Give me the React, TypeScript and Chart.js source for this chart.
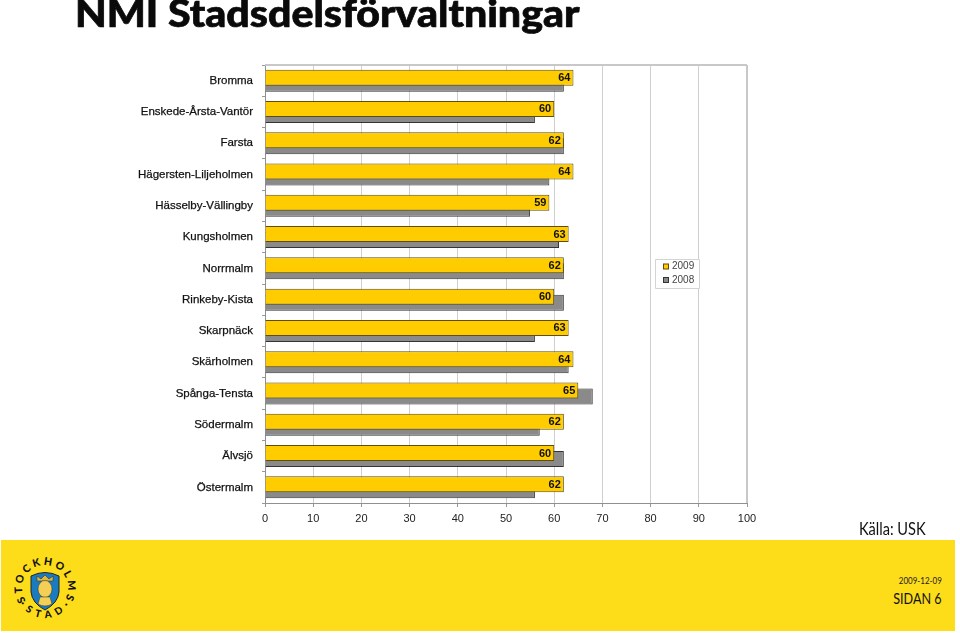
import React, { useEffect, useRef } from "react";
import { Chart, registerables } from "chart.js";

Chart.register(...registerables);

const categories = ["Bromma","Enskede-Årsta-Vantör","Farsta","Hägersten-Liljeholmen","Hässelby-Vällingby","Kungsholmen","Norrmalm","Rinkeby-Kista","Skarpnäck","Skärholmen","Spånga-Tensta","Södermalm","Älvsjö","Östermalm"];
const values2009 = [64,60,62,64,59,63,62,60,63,64,65,62,60,62];
const values2008 = [62,56,62,59,55,61,62,62,56,63,68,57,62,56];
const seriesNames = ["2009","2008"];
const FONT = '"Liberation Sans", Arial, sans-serif';

const decorPlugin = {
  id: "decor",
  beforeDatasetsDraw(chart: any) {
    const { ctx, chartArea: a } = chart;
    ctx.save();
    ctx.strokeStyle = "#c8c8c8";
    ctx.lineWidth = 2;
    ctx.beginPath();
    ctx.moveTo(a.left, a.top);
    ctx.lineTo(a.right, a.top);
    ctx.moveTo(a.right, a.top);
    ctx.lineTo(a.right, a.bottom);
    ctx.stroke();
    ctx.restore();
  },
  afterDatasetsDraw(chart: any) {
    const { ctx } = chart;
    const meta = chart.getDatasetMeta(0);
    ctx.save();
    ctx.font = `bold 11px ${FONT}`;
    ctx.fillStyle = "#111";
    ctx.textAlign = "right";
    ctx.textBaseline = "middle";
    meta.data.forEach((bar: any, i: number) => {
      ctx.fillText(String(chart.data.datasets[0].data[i]), bar.x - 3, bar.y + 0.5);
    });
    // legend
    const lx = 655, ly = 259.5, lw = 44, lh = 29;
    ctx.strokeStyle = "#d4d4d4";
    ctx.lineWidth = 1;
    ctx.fillStyle = "#fff";
    ctx.beginPath();
    ctx.rect(lx + 0.5, ly, lw, lh);
    ctx.fill();
    ctx.stroke();
    chart.data.datasets.forEach((d: any, i: number) => {
      const y = ly + 7 + i * 13.5;
      ctx.fillStyle = d.backgroundColor;
      ctx.strokeStyle = d.borderColor;
      ctx.fillRect(663.5, y - 2.5, 5, 5);
      ctx.strokeRect(663.5, y - 2.5, 5, 5);
      ctx.fillStyle = "#444";
      ctx.font = `10px ${FONT}`;
      ctx.textAlign = "left";
      ctx.fillText(d.label, 672, y);
    });
    ctx.restore();
  },
};

function Logo() {
  return (
    <svg width="70" height="70" viewBox="0 0 70 70" style={{ position: "absolute", left: 11, top: 555 }}>
      <defs>
        <path id="topArc" d="M 13 42.4 A 23 23 0 1 1 55 42.4" fill="none" />
        <path id="botArc" d="M 7 46 A 30 30 0 0 0 61 46" fill="none" />
      </defs>
      <path d="M20 21 Q34 14 48 21 L48 37 Q47 48 34 55 Q21 48 20 37 Z" fill="#1a7cc0" stroke="#222" strokeWidth="1" />
      <path d="M26 26 L26 21 L30 24 L34 20 L38 24 L42 21 L42 26 Z" fill="#e0b840" stroke="#333" strokeWidth="0.6" />
      <ellipse cx="34" cy="34" rx="7" ry="8.5" fill="#f3cf55" stroke="#333" strokeWidth="0.5" />
      <path d="M29 42 L39 42 L41 49 Q34 53 27 49 Z" fill="#f3cf55" stroke="#333" strokeWidth="0.5" />
      <text fontFamily="Lato, sans-serif" fontWeight="900" fontSize="10.5" fill="#111">
        <textPath href="#topArc" startOffset="50%" textAnchor="middle" letterSpacing="2.7">STOCKHOLMS</textPath>
      </text>
      <text fontFamily="Lato, sans-serif" fontWeight="900" fontSize="10" fill="#111">
        <textPath href="#botArc" startOffset="50%" textAnchor="middle" letterSpacing="1.6">· S T A D ·</textPath>
      </text>
    </svg>
  );
}

export default function App() {
  const ref = useRef<HTMLCanvasElement>(null);
  useEffect(() => {
    document.body.style.margin = "0";
    document.body.style.background = "#fff";
    const chart = new Chart(ref.current as HTMLCanvasElement, {
      type: "bar",
      data: {
        labels: categories,
        datasets: [
          { label: seriesNames[0], data: values2009, backgroundColor: "#ffcc00", borderColor: "#5e4c10", borderWidth: 1 },
          { label: seriesNames[1], data: values2008, backgroundColor: "#8a8a8a", borderColor: "#333333", borderWidth: 1 },
        ],
      },
      options: {
        indexAxis: "y",
        animation: false,
        responsive: false,
        events: [],
        layout: { padding: { top: 65, right: 213, left: 0, bottom: 0 } },
        datasets: { bar: { categoryPercentage: 0.383, barPercentage: 2.67 } },
        plugins: { legend: { display: false }, title: { display: false }, tooltip: { enabled: false } },
        scales: {
          x: {
            min: 0,
            max: 100,
            ticks: { stepSize: 10, color: "#222", font: { family: FONT, size: 11 }, padding: 5, maxRotation: 0 },
            grid: { color: "#cfcfcf", lineWidth: 1, tickLength: 4, tickColor: "#999" },
            border: { color: "#909090", width: 1 },
            afterFit(scale: any) { scale.height = 130; },
          },
          y: {
            ticks: { color: "#111", font: { family: FONT, size: 11.5 }, padding: 9, autoSkip: false, textStrokeColor: "#111", textStrokeWidth: 0.25 },
            grid: { drawOnChartArea: false, tickLength: 3, color: "#999" },
            border: { color: "#909090", width: 1 },
            afterFit(scale: any) { scale.width = 265; },
          },
        },
      } as any,
      plugins: [decorPlugin],
    });
    return () => chart.destroy();
  }, []);

  const squeeze = (sx: number): React.CSSProperties => ({ transform: `scaleX(${sx})`, transformOrigin: "right center" });

  return (
    <div style={{ position: "relative", width: 960, height: 633, overflow: "hidden", background: "#fff" }}>
      <canvas ref={ref} width={960} height={633} style={{ position: "absolute", left: 0, top: 0, display: "block" }} />
      <div style={{ position: "absolute", left: 75, top: -10, font: '900 37px Lato, sans-serif', WebkitTextStroke: "0.7px #0a0a0a", color: "#0a0a0a", whiteSpace: "nowrap", transform: "scaleX(1.11)", transformOrigin: "left center" }}>NMI Stadsdelsförvaltningar</div>
      <div style={{ position: "absolute", right: 34, top: 518, font: '17px Lato, sans-serif', color: "#111", whiteSpace: "nowrap", ...squeeze(0.86) }}>Källa: USK</div>
      <div style={{ position: "absolute", left: 1, top: 540, width: 954, height: 91, background: "#fddc1a" }} />
      <div style={{ position: "absolute", right: 18, top: 574, font: '10px Lato, sans-serif', color: "#222", whiteSpace: "nowrap", ...squeeze(0.8) }}>2009-12-09</div>
      <div style={{ position: "absolute", right: 18, top: 589, font: '15px Lato, sans-serif', color: "#111", whiteSpace: "nowrap", ...squeeze(0.84) }}>SIDAN 6</div>
      <Logo />
    </div>
  );
}
